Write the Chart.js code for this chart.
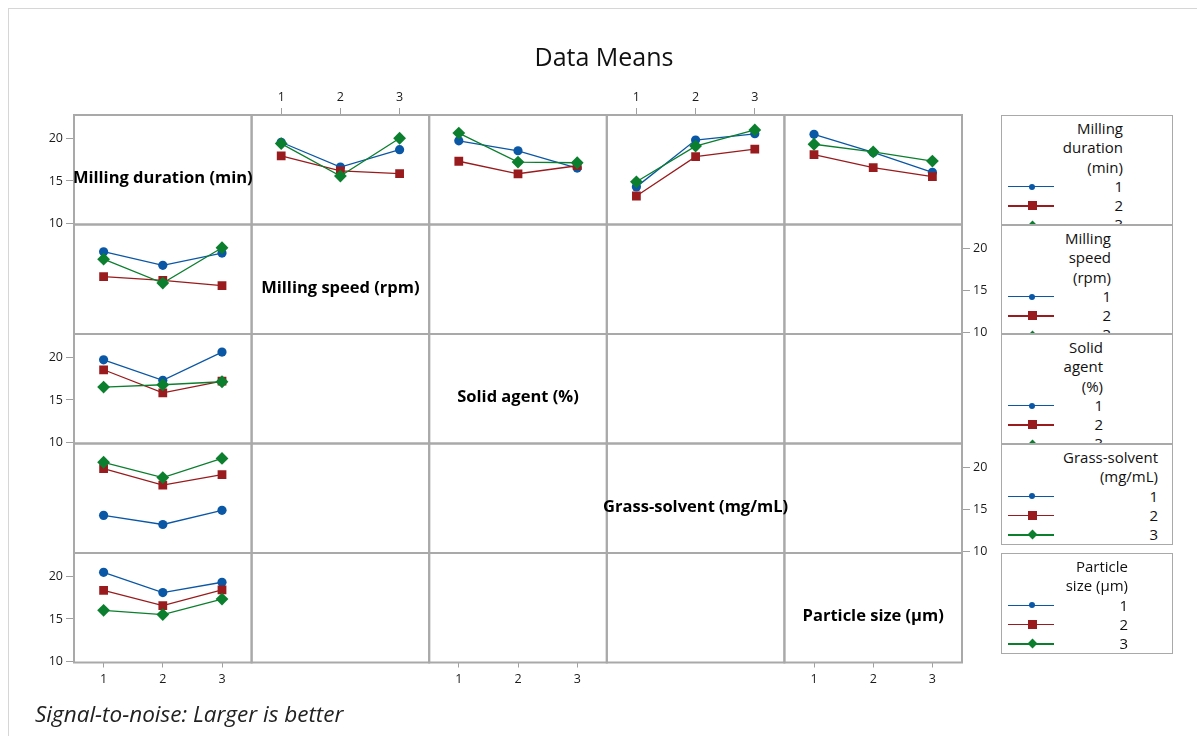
<!DOCTYPE html>
<html>
<head>
<meta charset="utf-8">
<script src="https://cdn.jsdelivr.net/npm/chart.js@4.4.0/dist/chart.umd.min.js"></script>
<style>
  body { margin: 0; background: #fff; font-family: 'Open Sans', 'Noto Sans', sans-serif; }
  #wrap { position: relative; width: 1197px; height: 736px; overflow: hidden; }
  #frame { position: absolute; left: 8px; top: 8px; width: 2000px; height: 2000px;
           border-left: 1px solid #d6d6d6; border-top: 1px solid #d6d6d6; }
  #chart { position: absolute; left: 0; top: 0; }
  #title { position: absolute; left: 454px; width: 300px; top: 39px; text-align: center;
           font-size: 25px; line-height: 34px; color: #111; }
  #note { position: absolute; left: 35px; top: 699px; font-size: 22.5px; font-style: italic;
          line-height: 30px; color: #222; }
  .legend { position: absolute; left: 1001px; width: 172px; box-sizing: border-box;
            border: 1px solid #a9a9a9; background: #fff; overflow: hidden;
            padding-top: 3px; font-size: 15px; color: #111; }
  .legend .row { position: relative; height: 19.3px; line-height: 19.3px; }
  .legend .txt { position: absolute; white-space: nowrap; }
  .legend .seg { position: absolute; left: 6px; width: 46px; top: 9px; height: 1.5px; }
  .legend .mk { position: absolute; }
</style>
</head>
<body>
<div id="wrap">
  <div id="frame"></div>
  <canvas id="chart" width="1197" height="736"></canvas>
  <div id="title">Data Means</div>
  <div id="note">Signal-to-noise: Larger is better</div>
</div>
<script>
'use strict';

const levels = [1, 2, 3];
const yTicks = [10, 15, 20];
const factorNames = ['Milling duration (min)', 'Milling speed (rpm)', 'Solid agent (%)',
  'Grass-solvent (mg/mL)', 'Particle size (µm)'];
const legendTitles = [['Milling', 'duration', '(min)'], ['Milling', 'speed', '(rpm)'],
  ['Solid', 'agent', '(%)'], ['Grass-solvent', '(mg/mL)'], ['Particle', 'size (µm)']];

// means, row = milling duration level, column = level of the other factor
const durationBySpeed = [
  [19.58, 16.64, 18.70],
  [17.97, 16.19, 15.87],
  [19.42, 15.58, 20.05]
];
const durationBySolid = [
  [19.75, 18.57, 16.52],
  [17.33, 15.85, 16.80],
  [20.66, 17.23, 17.15]
];
const durationByGrass = [
  [14.30, 19.83, 20.58],
  [13.22, 17.88, 18.77],
  [14.90, 19.12, 21.03]
];
const durationByParticle = [
  [20.52, 18.38, 16.02],
  [18.12, 16.58, 15.52],
  [19.34, 18.43, 17.35]
];

const seriesColors = ['#0a57a6', '#9a1b1d', '#0b7f2e'];
const seriesShapes = ['circle', 'rect', 'rectRot'];
const seriesRadius = [4.6, 6.2, 6.4];
const fontFamily = "'Open Sans', 'Noto Sans', sans-serif";

let datasets = [];

function addLine(points, k, xId, yId) {
  datasets.push({
    data: points,
    xAxisID: xId,
    yAxisID: yId,
    order: 3 - k,
    borderColor: seriesColors[k],
    backgroundColor: seriesColors[k],
    pointBackgroundColor: seriesColors[k],
    pointBorderColor: seriesColors[k],
    pointBorderWidth: 0,
    pointStyle: seriesShapes[k],
    pointRadius: seriesRadius[k],
    borderWidth: 1.3,
    tension: 0
  });
}

let tables = [durationBySpeed, durationBySolid, durationByGrass, durationByParticle];
tables.forEach(function (table, j) {
  // top row: duration levels are the series, other factor on x
  for (let d = 0; d < 3; d++) {
    addLine(levels.map((lv, k) => ({ x: lv, y: table[d][k] })), d, 'x' + (j + 2), 'y1');
  }
  // first column: other factor levels are the series, duration on x
  for (let k = 0; k < 3; k++) {
    addLine(levels.map((lv, d) => ({ x: lv, y: table[d][k] })), k, 'x1', 'y' + (j + 2));
  }
});

function tickFont() {
  return { size: 12.5, family: fontFamily };
}

function xAxis(position, stack, show, size, tickLen, pad) {
  return {
    type: 'linear', position: position, stack: stack, stackWeight: 1,
    min: 0.5, max: 3.5,
    afterBuildTicks: s => { s.ticks = levels.map(v => ({ value: v })); },
    afterFit: s => { s.height = size; },
    border: { display: false },
    grid: { display: show, drawOnChartArea: false, drawTicks: true, tickLength: tickLen, color: '#a0a0a0', lineWidth: 1 },
    ticks: { display: show, padding: pad, color: '#1a1a1a', font: tickFont(),
             maxRotation: 0, minRotation: 0, autoSkip: false }
  };
}

function yAxis(position, stack, show, size) {
  return {
    type: 'linear', position: position, stack: stack, stackWeight: 1,
    min: 9.85, max: 22.8,
    afterBuildTicks: s => { s.ticks = yTicks.map(v => ({ value: v })); },
    afterFit: s => { s.width = size; },
    border: { display: false },
    grid: { display: show, drawOnChartArea: false, drawTicks: true, tickLength: 8, color: '#a0a0a0', lineWidth: 1 },
    ticks: { display: show, padding: 3, color: '#1a1a1a', font: tickFont(), autoSkip: false }
  };
}

let scales = {};
for (let i = 1; i <= 5; i++) {
  scales['x' + i] = xAxis('bottom', 'bottomStack', i % 2 === 1, 26, 5, 4);
  scales['t' + i] = xAxis('top', 'topStack', i % 2 === 0, 26, 7, 3);
  scales['r' + i] = yAxis('right', 'rightStack', i % 2 === 0, 34);
}
// left stack is laid out last-added-first, so add rows bottom-up
for (let i = 5; i >= 1; i--) {
  scales['y' + i] = yAxis('left', 'leftStack', i % 2 === 1, 40);
}

const cellFrames = {
  id: 'cellFrames',
  beforeDatasetsDraw(chart) {
    const ctx = chart.ctx;
    ctx.save();
    ctx.strokeStyle = '#a9a9a9';
    ctx.lineWidth = 2;
    for (let r = 1; r <= 5; r++) {
      for (let c = 1; c <= 5; c++) {
        const xs = chart.scales['x' + c];
        const ys = chart.scales['y' + r];
        ctx.strokeRect(xs.left, ys.top, xs.right - xs.left, ys.bottom - ys.top);
      }
    }
    ctx.fillStyle = '#000';
    ctx.font = 'bold 16.5px ' + fontFamily;
    ctx.textAlign = 'center';
    ctx.textBaseline = 'middle';
    factorNames.forEach(function (name, i) {
      const xs = chart.scales['x' + (i + 1)];
      const ys = chart.scales['y' + (i + 1)];
      ctx.fillText(name, (xs.left + xs.right) / 2, (ys.top + ys.bottom) / 2 + 9);
    });
    ctx.restore();
  }
};

new Chart(document.getElementById('chart'), {
  type: 'line',
  data: { datasets: datasets },
  options: {
    responsive: false,
    animation: false,
    layout: { padding: { left: 34, right: 201, top: 89, bottom: 47.5 } },
    scales: scales,
    plugins: { legend: { display: false }, tooltip: { enabled: false } }
  },
  plugins: [cellFrames]
});

// legends on the right
const legendTops = [115, 225, 334, 444, 553];
const legendHeights = [110, 109, 110, 101, 101];
const legendTextRight = [49, 61, 69, 14, 44];
const wrap = document.getElementById('wrap');

legendTitles.forEach(function (lines, i) {
  const box = document.createElement('div');
  box.className = 'legend';
  box.style.top = legendTops[i] + 'px';
  box.style.height = legendHeights[i] + 'px';
  lines.forEach(function (t) {
    const row = document.createElement('div');
    row.className = 'row';
    row.innerHTML = '<span class="txt" style="right:' + legendTextRight[i] + 'px">' + t + '</span>';
    box.appendChild(row);
  });
  levels.forEach(function (lv, k) {
    const row = document.createElement('div');
    row.className = 'row';
    const c = seriesColors[k];
    let mk;
    if (k === 0) {
      mk = '<div class="mk" style="left:27px;top:6.7px;width:6px;height:6px;border-radius:50%;background:' + c + '"></div>';
    } else if (k === 1) {
      mk = '<div class="mk" style="left:25.5px;top:5.2px;width:9px;height:9px;background:' + c + '"></div>';
    } else {
      mk = '<div class="mk" style="left:26.5px;top:6.2px;width:7px;height:7px;transform:rotate(45deg);background:' + c + '"></div>';
    }
    row.innerHTML = '<div class="seg" style="background:' + c + '"></div>' + mk +
      '<span class="txt" style="right:' + legendTextRight[i] + 'px">' + lv + '</span>';
    box.appendChild(row);
  });
  wrap.appendChild(box);
});
</script>
</body>
</html>
